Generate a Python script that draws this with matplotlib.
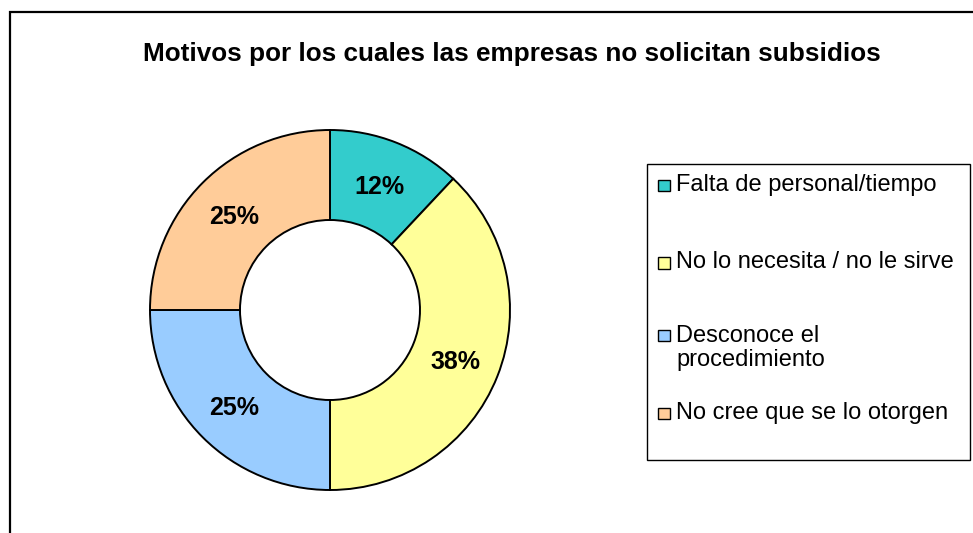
import matplotlib.pyplot as plt
from matplotlib.patches import Rectangle

plt.rcParams['font.family'] = ['Liberation Sans', 'DejaVu Sans']

categorias = ["Falta de personal/tiempo",
              "No lo necesita / no le sirve",
              "Desconoce el\nprocedimiento",
              "No cree que se lo otorgen"]
valores = [12, 38, 25, 25]
colores = ["#33CCCC", "#FFFF99", "#99CCFF", "#FFCC99"]
titulo = "Motivos por los cuales las empresas no solicitan subsidios"

W, H = 973, 533
fig = plt.figure(figsize=(W / 100, H / 100), dpi=100)
ax = fig.add_axes([0, 0, 1, 1])

# marco del grafico (se corta a la derecha y abajo)
ax.add_patch(Rectangle((10, -20), W + 20, H - 12 + 20, fill=False,
                       ec="black", lw=1.6))

ax.text(512, H - 61, titulo, ha="center", va="baseline",
        fontsize=18.8, fontweight="bold")

# anillo
wedges, _, autotexts = ax.pie(
    valores, colors=colores, center=(330, H - 310), radius=180,
    startangle=90, counterclock=False, autopct="%1.0f%%",
    pctdistance=0.75, frame=True,
    wedgeprops=dict(width=90, edgecolor="black", linewidth=1.4),
    textprops=dict(fontsize=18, fontweight="bold"))
for t in autotexts:
    t.set_va("center_baseline")
ax.set_xlim(0, W)
ax.set_ylim(0, H)
ax.set_aspect("equal")
ax.axis("off")

# leyenda
ax.add_patch(Rectangle((647, H - 460), 323, 296, fill=False,
                       ec="black", lw=1.0))
filas = [185, 262.5, 335, 413]
for cat, col, y in zip(categorias, colores, filas):
    ax.add_patch(Rectangle((658, H - y - 6), 11.5, 11.5, fc=col,
                           ec="black", lw=1.0))
    # con va=baseline matplotlib toma la ultima linea
    extra = 25 * cat.count("\n")
    ax.text(676, H - y - 6 - extra, cat, ha="left", va="baseline",
            fontsize=17, linespacing=1.1)

fig.savefig("out.png", dpi=100)
